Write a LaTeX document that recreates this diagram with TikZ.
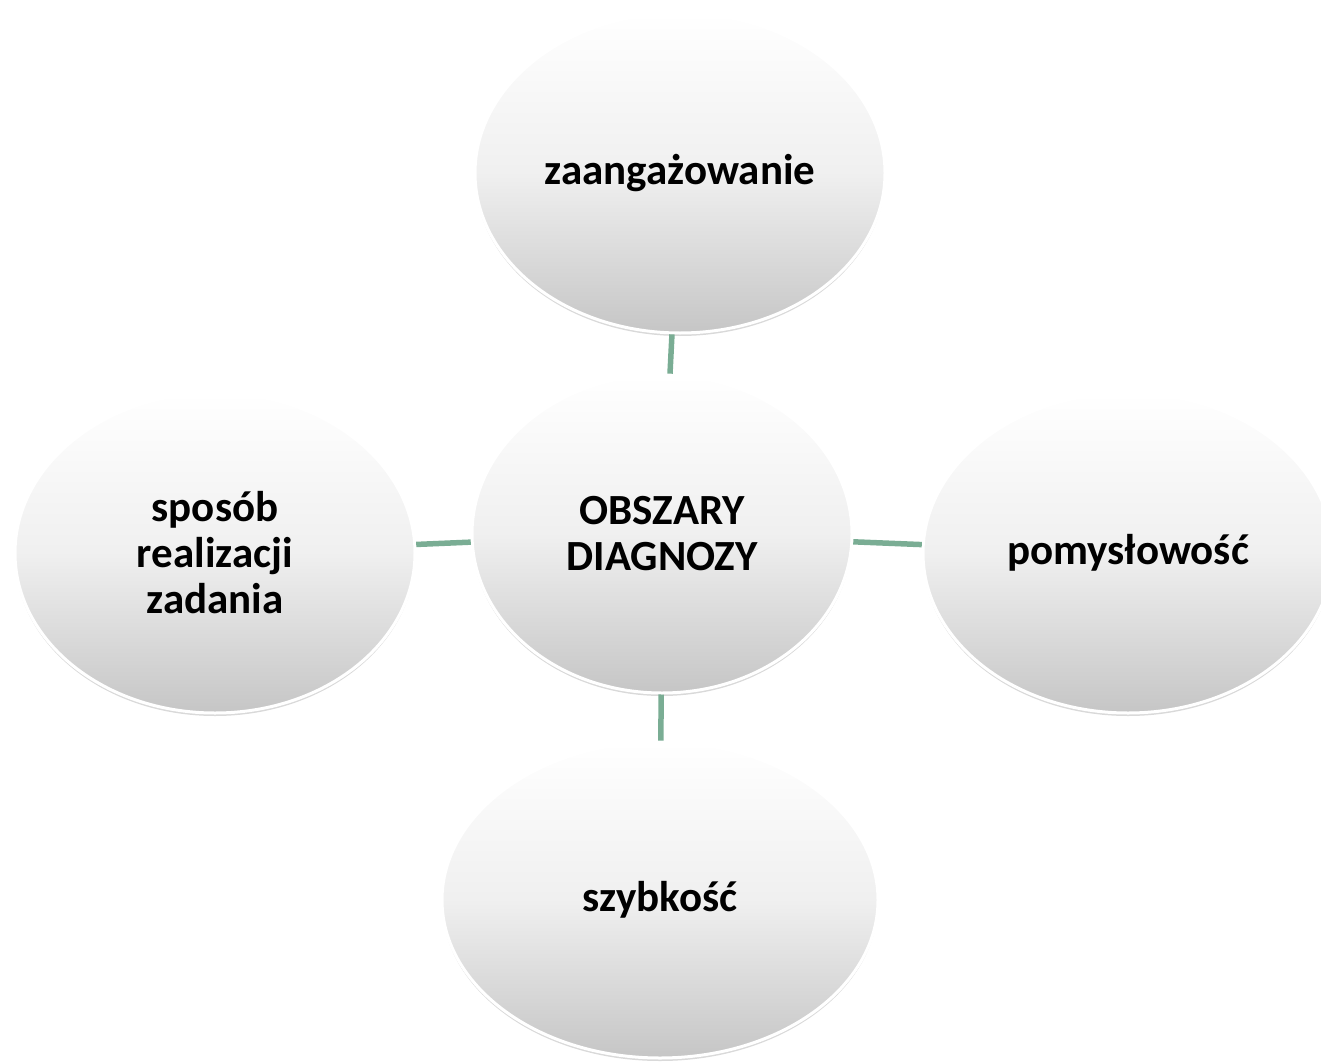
\documentclass[tikz,border=0pt]{standalone}
\usepackage{fontspec}
\setmainfont{Carlito}
\usetikzlibrary{shapes.geometric,shadows}
\definecolor{linkgreen}{RGB}{122,173,148}
\tikzset{
	bubble/.style={ellipse, draw=white, line width=3pt, top color=white, bottom color=gray!45,
		middle color=gray!12,
		font=\bfseries\fontsize{43}{46}\selectfont, align=center, inner sep=0pt,
		drop shadow={opacity=0.3, shadow xshift=0pt, shadow yshift=-3pt}},
	link/.style={linkgreen, line width=5.5pt}
}
\begin{document}
\begin{tikzpicture}[x=1pt, y=-1pt]
					\useasboundingbox (0,0) rectangle (1321,1062);
					\node[bubble, minimum width=410, minimum height=320] (zaang) at (680,173) {zaangażowanie};
					\node[bubble, minimum width=380, minimum height=318] (obszary) at (662,534) {OBSZARY\\DIAGNOZY};
					\node[bubble, minimum width=400, minimum height=320] (sposob) at (215,553) {sposób\\realizacji\\zadania};
					\node[bubble, minimum width=410, minimum height=320] (pomysl) at (1128,553) {pomysłowość};
					\node[bubble, minimum width=436, minimum height=316] (szybk) at (660,900) {szybkość};
					\draw[link] (obszary) -- (zaang);
					\draw[link] (obszary) -- (sposob);
					\draw[link] (obszary) -- (pomysl);
					\draw[link] (obszary) -- (szybk);
				\end{tikzpicture}
\end{document}
